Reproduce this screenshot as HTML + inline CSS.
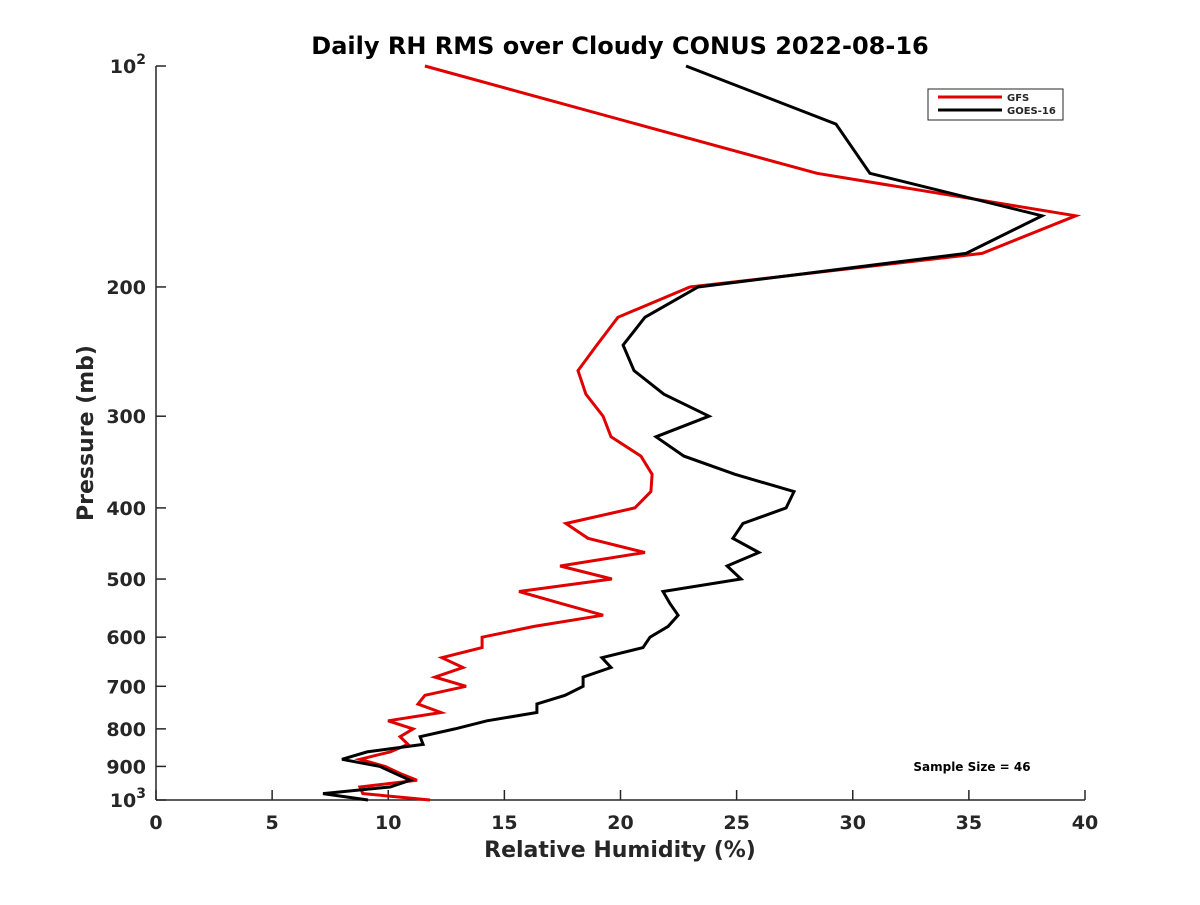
<!DOCTYPE html>
<html><head><meta charset="utf-8"><style>
body{margin:0;background:#fff;}
svg text{font-family:"DejaVu Sans","Liberation Sans",sans-serif;font-weight:bold;fill:#262626;}
</style></head><body>
<svg id="chart" width="1200" height="900" viewBox="0 0 1200 900" xmlns="http://www.w3.org/2000/svg">
<rect width="1200" height="900" fill="#fff"/>
<text x="620" y="54" text-anchor="middle" font-size="24" style="fill:#000">Daily RH RMS over Cloudy CONUS 2022-08-16</text>
<g id="axes"></g>
<g id="series"></g>
<text x="620" y="857" text-anchor="middle" font-size="22">Relative Humidity (%)</text>
<text transform="translate(93,433) rotate(-90)" text-anchor="middle" font-size="22">Pressure (mb)</text>
<g>
<rect x="928" y="89" width="135" height="31" fill="#fff" stroke="#262626" stroke-width="1"/>
<line x1="938" y1="97" x2="1002" y2="97" stroke="#e00000" stroke-width="3"/>
<text x="1007" y="101" font-size="10">GFS</text>
<line x1="938" y1="110" x2="1002" y2="110" stroke="#000" stroke-width="3"/>
<text x="1007" y="114" font-size="10">GOES-16</text>
</g>
<text x="972" y="771" text-anchor="middle" font-size="12" style="fill:#000">Sample Size = 46</text>
</svg>
<script>
const levels = [100,120,140,160,180,200,220,240,260,280,300,320,340,360,380,400,420,440,460,480,500,520,540,560,580,600,620,640,660,680,700,720,740,760,780,800,820,840,860,880,900,920,940,960,980,1000];
const gfs = [11.58,20.7,28.46,39.6,35.57,22.99,19.89,18.98,18.17,18.51,19.25,19.59,20.88,21.36,21.31,20.62,17.65,18.6,21.05,17.4,19.63,15.63,17.45,19.25,16.28,14.04,14.04,12.31,13.22,12.01,13.35,11.58,11.28,12.27,9.99,11.07,10.51,10.85,10.08,8.78,9.86,10.5,11.24,8.78,8.91,11.8];
const goes16 = [22.82,29.28,30.74,38.15,34.88,23.34,21.05,20.11,20.58,21.87,23.81,21.53,22.73,24.93,27.47,27.13,25.27,24.84,25.96,24.59,25.19,21.83,22.13,22.48,22.05,21.27,20.97,19.2,19.59,18.39,18.39,17.61,16.4,16.4,14.25,12.87,11.37,11.5,9.09,8.01,9.64,10.29,10.94,10.08,7.19,9.13];
const xTicks = [0,5,10,15,20,25,30,35,40];
const yTicks = [100,200,300,400,500,600,700,800,900,1000];
const yTickLabels = ["10|2","200","300","400","500","600","700","800","900","10|3"];

const L=156,R=1085,T=66,B=800;
const xs = v => L + (v-0)/(40-0)*(R-L);
const ys = p => T + (Math.log10(p)-2)/(3-2)*(B-T);
const NS="http://www.w3.org/2000/svg";
const axes=document.getElementById('axes');
function mk(tag,attrs,parent){const e=document.createElementNS(NS,tag);for(const k in attrs)e.setAttribute(k,attrs[k]);parent.appendChild(e);return e;}
let e;
e=mk('line',{x1:L,y1:B,x2:R,y2:B,stroke:'#262626','stroke-width':1.5},axes);


e=mk('line',{x1:L,y1:T,x2:L,y2:B,stroke:'#262626','stroke-width':1.5},axes);


xTicks.forEach(v=>{
  const x=xs(v);
  e=mk('line',{x1:x,y1:B,x2:x,y2:B-10,stroke:'#262626','stroke-width':1.5},axes);
  
  
  e=mk('text',{x:x,y:B+29,'text-anchor':'middle','font-size':19},axes);
  e.textContent=v;
  
  
});
yTicks.forEach((p,i)=>{
  const y=ys(p);
  e=mk('line',{x1:L,y1:y,x2:L+10,y2:y,stroke:'#262626','stroke-width':1.5},axes);
  
  
  const lab=yTickLabels[i];
  e=mk('text',{x:L-10,y:y+7,'text-anchor':'end','font-size':19},axes);
  
  
  if(lab.includes('|')){
    const parts=lab.split('|');
    const t1=mk('tspan',{},e); t1.textContent=parts[0];
    const t2=mk('tspan',{dy:-9,'font-size':14},e); t2.textContent=parts[1];
  } else e.textContent=lab;
});
const ser=document.getElementById('series');
function line(vals,color,name){
  const pts=vals.map((v,i)=>xs(v).toFixed(1)+','+ys(levels[i]).toFixed(1)).join(' ');
  const el=mk('polyline',{points:pts,fill:'none',stroke:color,'stroke-width':3,'stroke-linejoin':'miter'},ser);
  
  
}
line(gfs,'#e00000','gfs-line');
line(goes16,'#000000','goes16-line');
</script>
</body></html>
